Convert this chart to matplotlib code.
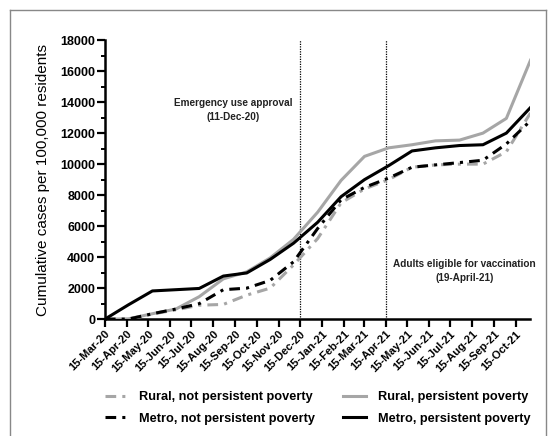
import pandas as pd
import matplotlib
matplotlib.use("Agg")
import matplotlib.pyplot as plt
import matplotlib.dates as mdates
from matplotlib.lines import Line2D

plt.rcParams['font.family'] = ['Liberation Sans', 'DejaVu Sans']

# sample dates (roughly every 33 days)
dates = pd.to_datetime([
    "2020-03-15", "2020-04-17", "2020-05-21", "2020-06-23", "2020-07-26",
    "2020-08-29", "2020-10-01", "2020-11-03", "2020-12-06", "2021-01-09",
    "2021-02-11", "2021-03-16", "2021-04-19", "2021-05-22", "2021-06-24",
    "2021-07-28", "2021-08-30", "2021-10-02", "2021-11-05",
])

rural_not_poverty = [0, 0, 330, 600, 900, 950, 1550, 2000, 3500, 5200,
                     7500, 8400, 9000, 9800, 9950, 10000, 10000, 10800, 13300]
rural_poverty = [0, 20, 350, 650, 1450, 2600, 3050, 3950, 5150, 6900,
                 8950, 10500, 11050, 11250, 11500, 11550, 12000, 12950, 16700]
metro_not_poverty = [0, 0, 350, 650, 1000, 1900, 2000, 2500, 3700, 5850,
                     7700, 8500, 9100, 9800, 9950, 10100, 10250, 11300, 12800]
metro_poverty = [0, 920, 1820, 1900, 1980, 2780, 2980, 3850, 4900, 6250,
                 7900, 9000, 9900, 10850, 11050, 11200, 11250, 12000, 13650]

labels = ["Rural, not persistent poverty", "Metro, not persistent poverty",
          "Rural, persistent poverty", "Metro, persistent poverty"]

events = pd.to_datetime(["2020-12-15", "2021-04-15"])
event_text = ["Emergency use approval\n(11-Dec-20)",
              "Adults eligible for vaccination\n(19-April-21)"]
event_text_pos = [(pd.Timestamp("2020-09-12"), 13500),
                  (pd.Timestamp("2021-08-04"), 3100)]

grey = "#a6a6a6"
dash = (0, (3.5, 2, 1, 2))

fig = plt.figure(figsize=(5.52, 4.36), dpi=100)
ax = fig.add_axes([0.19, 0.268, 0.771, 0.64])

ax.plot(dates, rural_not_poverty, color=grey, lw=2.2, linestyle=dash, zorder=3)
ax.plot(dates, metro_not_poverty, color="black", lw=2.2, linestyle=dash, zorder=4)
ax.plot(dates, rural_poverty, color=grey, lw=2.2, zorder=3)
ax.plot(dates, metro_poverty, color="black", lw=2.2, zorder=4)

for d in events:
    ax.vlines(d, 150, 18000, color="black", lw=0.9, linestyles=(0, (1, 1)), zorder=1)
for (x, y), t in zip(event_text_pos, event_text):
    ax.text(x, y, t, ha="center", va="center", fontsize=7.2, fontweight="bold",
            color="#222222", linespacing=1.5)

ax.set_xlim(pd.Timestamp("2020-03-15"), pd.Timestamp("2021-11-05"))
ax.set_ylim(0, 18000)
ax.set_yticks(range(0, 18001, 2000))
ax.set_yticks(range(0, 18001, 1000), minor=True)
ax.xaxis.set_major_locator(mdates.MonthLocator(bymonthday=15))
ax.xaxis.set_major_formatter(mdates.DateFormatter("%d-%b-%y"))

for s in ["top", "right"]:
    ax.spines[s].set_visible(False)
for s in ["left", "bottom"]:
    ax.spines[s].set_linewidth(1.8)

ax.tick_params(axis="both", which="major", length=5.5, width=1.6, labelsize=9, pad=1.5)
ax.tick_params(axis="y", which="minor", length=3, width=1.4)
ax.tick_params(axis="x", labelsize=8, pad=1.5)
for lab in ax.get_yticklabels():
    lab.set_fontweight("bold")
for lab in ax.get_xticklabels():
    lab.set_fontweight("bold")
    lab.set_rotation(45)
    lab.set_ha("right")
    lab.set_rotation_mode("anchor")

ax.set_ylabel("Cumulative cases per 100,000 residents", fontsize=11, labelpad=7)

handles = [
    Line2D([], [], color=grey, lw=2.2, linestyle=dash),
    Line2D([], [], color="black", lw=2.2, linestyle=dash),
    Line2D([], [], color=grey, lw=2.2),
    Line2D([], [], color="black", lw=2.2),
]
fig.legend(handles, labels, ncol=2, loc="center", bbox_to_anchor=(0.575, 0.064),
           frameon=False, prop={"weight": "bold", "size": 9.2},
           handlelength=1.8, handletextpad=0.9, columnspacing=2.2, labelspacing=0.75)

# grey frame around the figure
fig.add_artist(Line2D([10 / 552, 10 / 552], [0, 1 - 10 / 436], color="#888888", lw=1,
                      transform=fig.transFigure))
fig.add_artist(Line2D([10 / 552, 546 / 552], [1 - 10 / 436, 1 - 10 / 436], color="#888888",
                      lw=1, transform=fig.transFigure))
fig.add_artist(Line2D([546 / 552, 546 / 552], [0, 1 - 10 / 436], color="#888888", lw=1,
                      transform=fig.transFigure))

fig.savefig("out.png", dpi=100, facecolor="white")
